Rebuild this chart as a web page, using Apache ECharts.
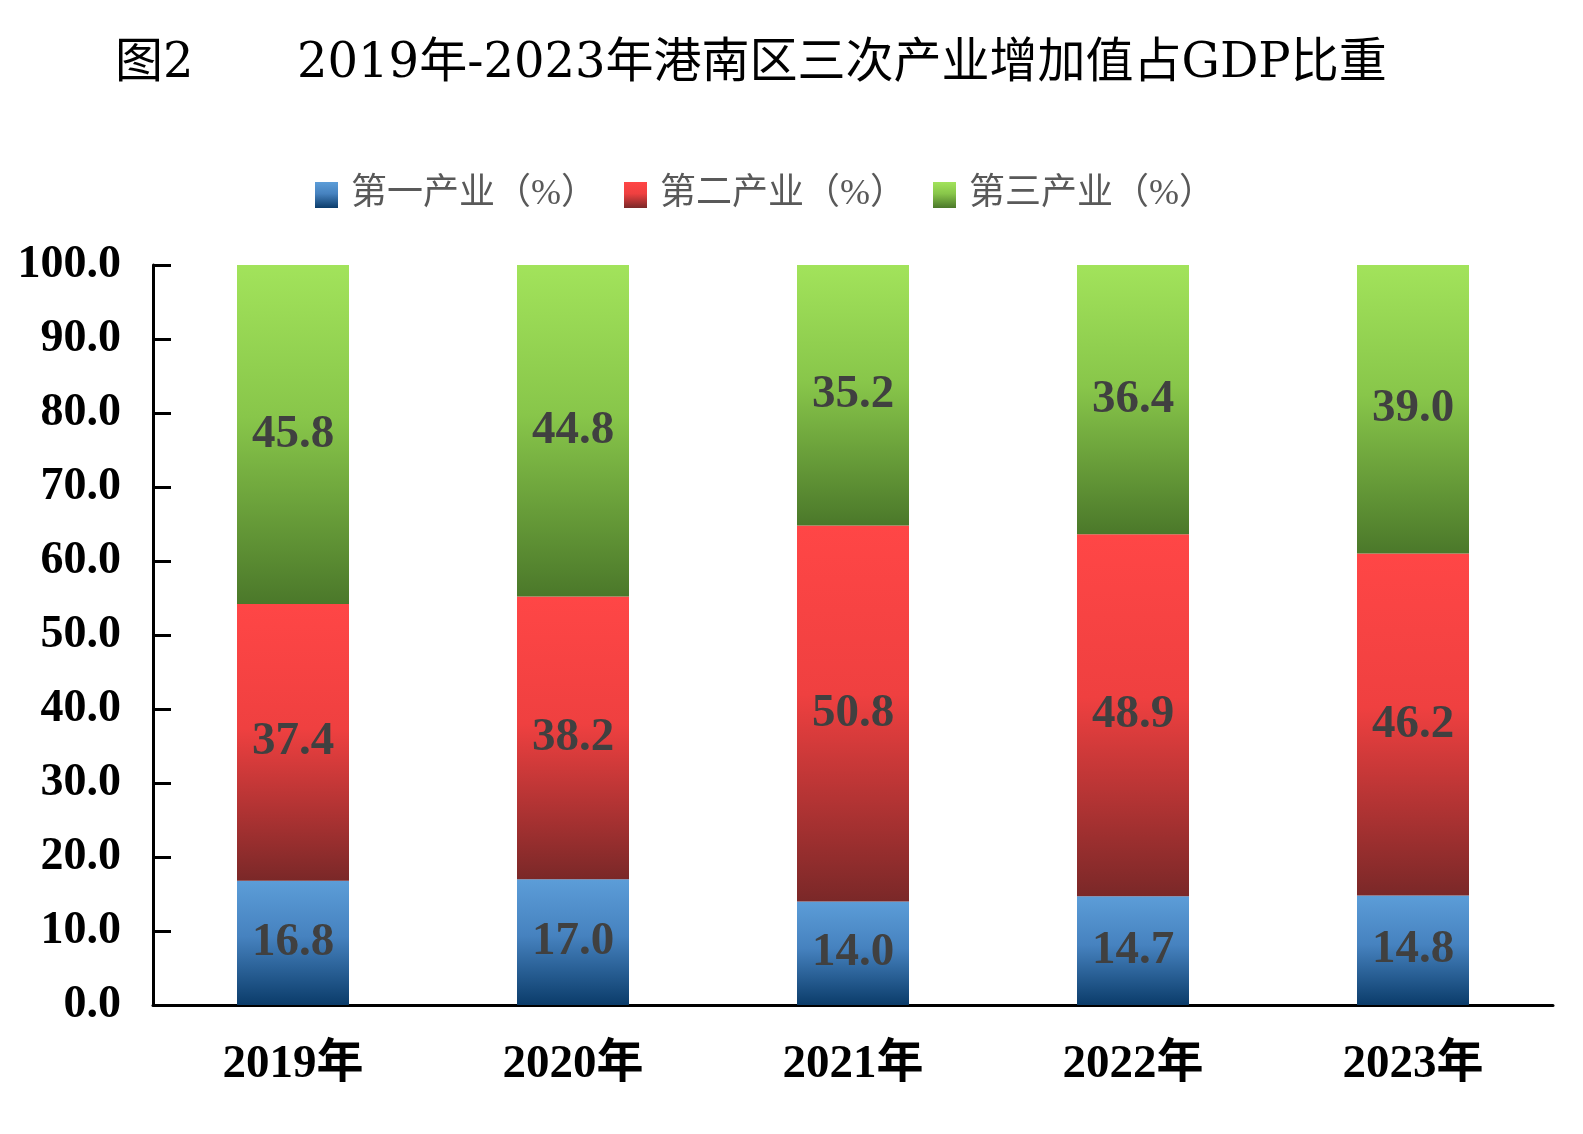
<!DOCTYPE html>
<html>
<head>
<meta charset="utf-8">
<script src="https://cdn.jsdelivr.net/npm/echarts@6/dist/echarts.min.js"></script>
<style>
	html, body { margin: 0; padding: 0; background: #fff; }
	#chart { width: 1583px; height: 1134px; }
</style>
</head>
<body>
<div id="chart"></div>
<script>
	var years = ['2019年', '2020年', '2021年', '2022年', '2023年'];
	var primary = [16.8, 17.0, 14.0, 14.7, 14.8];
	var secondary = [37.4, 38.2, 50.8, 48.9, 46.2];
	var tertiary = [45.8, 44.8, 35.2, 36.4, 39.0];
	var names = ['第一产业（%）', '第二产业（%）', '第三产业（%）'];

	var serif = '"Liberation Serif", "Noto Sans CJK SC", serif';
	var titleFont = '"DejaVu Serif", "Noto Sans CJK SC", serif';

	function grad(c0, c1, c2) {
		return new echarts.graphic.LinearGradient(0, 0, 0, 1, [
			{ offset: 0, color: c0 },
			{ offset: 0.45, color: c1 },
			{ offset: 1, color: c2 }
		]);
	}

	var colors = [
		grad('#5c9dd8', '#4682bf', '#0b3c6a'),
		grad('#ff4646', '#ef4040', '#7a2828'),
		grad('#a2e35b', '#88c64a', '#4b782a')
	];

	function makeSeries(idx, data) {
		return {
			name: names[idx],
			type: 'bar',
			stack: 'total',
			barWidth: '40%',
			data: data,
			itemStyle: { color: colors[idx] },
			label: {
				show: true,
				position: 'inside',
				color: '#404040',
				fontFamily: serif,
				fontWeight: 'bold',
				fontSize: 47,
				formatter: function(p) {
					return p.value.toFixed(1);
				}
			}
		};
	}

	var myChart = echarts.init(document.getElementById('chart'));
	myChart.setOption({
		animation: false,
		title: [{
			text: '图2',
			left: 110,
			top: 36,
			textStyle: { fontFamily: titleFont, fontWeight: 'normal', fontSize: 48, color: '#000' }
		}, {
			text: '2019年-2023年港南区三次产业增加值占GDP比重',
			left: 292,
			top: 36,
			textStyle: { fontFamily: titleFont, fontWeight: 'normal', fontSize: 48, color: '#000' }
		}],
		legend: {
			top: 172,
			left: 310,
			itemWidth: 23,
			itemHeight: 26,
			itemGap: 27,
			icon: 'rect',
			textStyle: { fontFamily: serif, fontSize: 36, color: '#595959', padding: [0, 0, 0, 8] },
			data: names
		},
		grid: {
			left: 153,
			right: 30,
			top: 265,
			bottom: 129
		},
		xAxis: {
			type: 'category',
			data: years,
			axisLine: { lineStyle: { color: '#000', width: 3 } },
			axisTick: { inside: true, length: 20, lineStyle: { color: '#000', width: 3 } },
			axisLabel: {
				margin: 36,
				color: '#000',
				fontFamily: serif,
				fontWeight: 'bold',
				fontSize: 47
			}
		},
		yAxis: {
			type: 'value',
			min: 0,
			max: 100,
			interval: 10,
			splitLine: { show: false },
			axisLine: { show: true, lineStyle: { color: '#000', width: 3 } },
			axisTick: { show: true, inside: true, length: 18, lineStyle: { color: '#000', width: 3 } },
			axisLabel: {
				margin: 32,
				color: '#000',
				fontFamily: serif,
				fontWeight: 'bold',
				fontSize: 46,
				formatter: function(v) {
					return v.toFixed(1);
				}
			}
		},
		series: [
			makeSeries(0, primary),
			makeSeries(1, secondary),
			makeSeries(2, tertiary)
		]
	});
</script>
</body>
</html>
